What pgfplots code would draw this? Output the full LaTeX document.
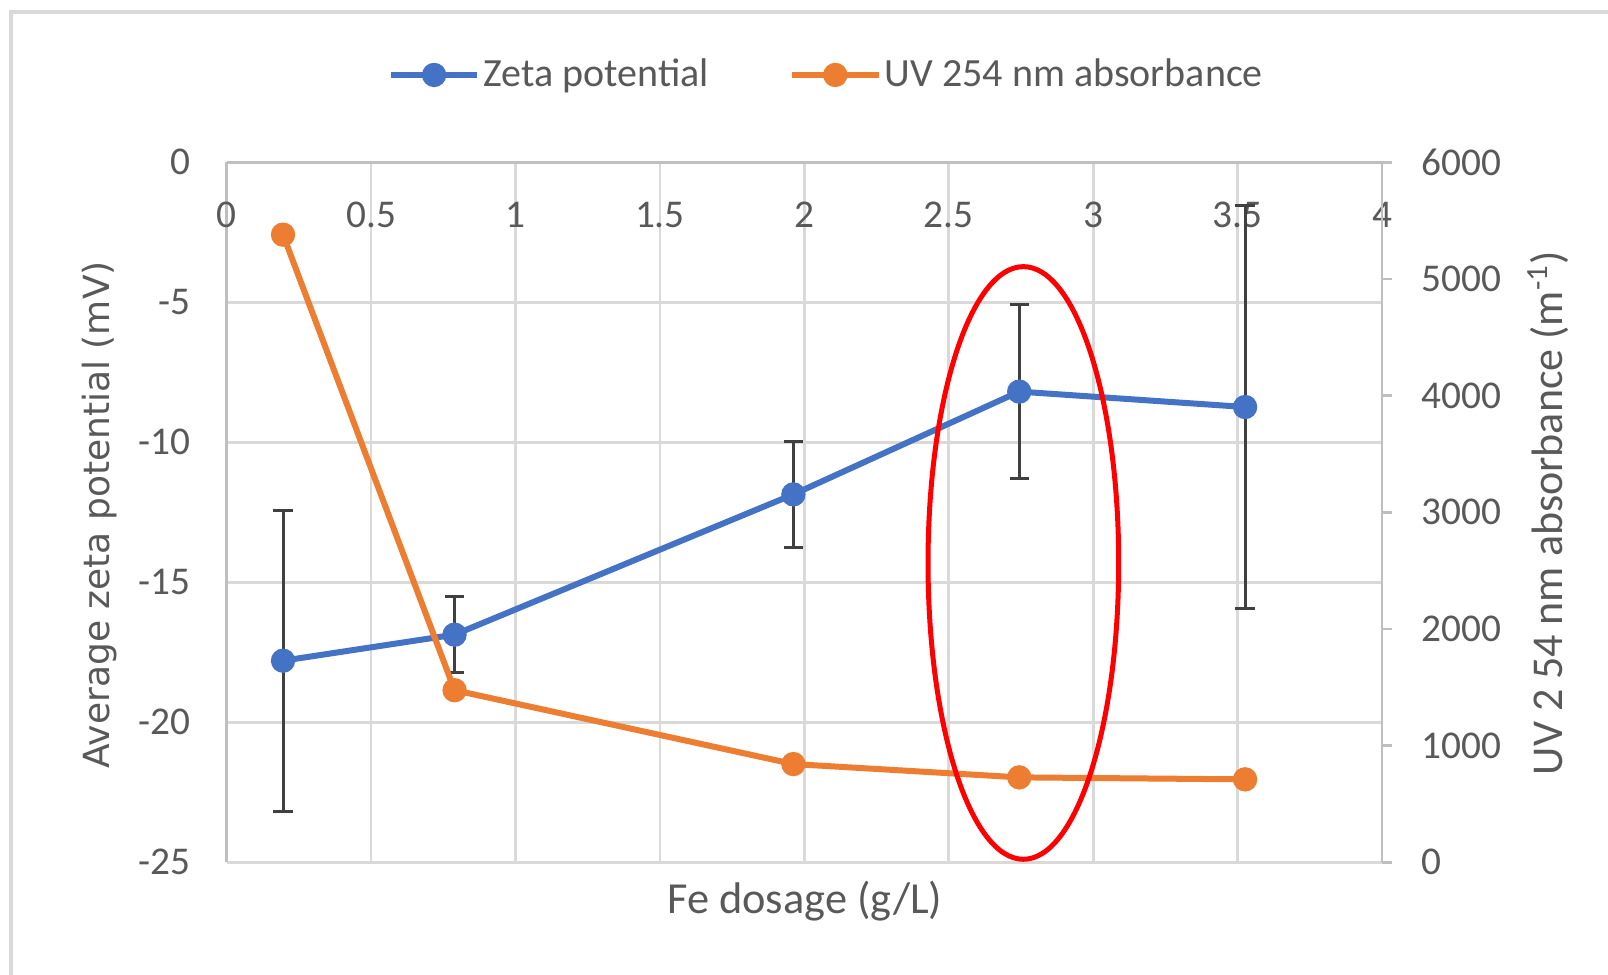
\documentclass[border=0pt]{standalone}
\usepackage{pgfplots}
\pgfplotsset{compat=1.18}
\usepackage{fontspec}
\setmainfont{Carlito}
\newfontfamily\dejavu{DejaVu Sans}
\definecolor{zblue}{HTML}{4472C4}
\definecolor{uorange}{HTML}{ED7D31}
\definecolor{txtgray}{HTML}{595959}
\definecolor{gridgray}{HTML}{D9D9D9}
\definecolor{axgray}{HTML}{BFBFBF}
\definecolor{errgray}{HTML}{404040}
\begin{document}
\begin{tikzpicture}
\useasboundingbox (-68.01pt,-33.51pt) rectangle (414.39pt,258.69pt);
\fill[white] (-68.01pt,-33.51pt) rectangle (414.39pt,258.69pt);
\draw[line width=1.2pt, color=gridgray] (-64.71pt,-40pt) -- (-64.71pt,255.09pt) -- (420pt,255.09pt);

\begin{axis}[
  at={(0,0)}, anchor=south west,
  scale only axis, width=346.6pt, height=210pt,
  xmin=0, xmax=4, ymin=-25, ymax=0,
  axis x line*=top, axis y line*=left,
  axis line style={draw=axgray, line width=0.8pt},
  grid=major, grid style={gridgray, line width=0.8pt},
  xtick={0,0.5,1,1.5,2,2.5,3,3.5,4}, xticklabels={0,0.5,1,1.5,2,2.5,3,3.5,4},
  ytick={-25,-20,-15,-10,-5,0}, yticklabels={-25,-20,-15,-10,-5,0},
  major tick length=0pt,
  tick label style={font=\fontsize{11.8}{14}\selectfont, text=txtgray},
  xticklabel style={anchor=center, yshift=-15.8pt},
  yticklabel style={xshift=-7.4pt},
  clip=false,
]
\addplot[color=zblue, line width=1.8pt, mark=*, mark size=3.4pt,
  mark options={fill=zblue, draw=zblue, line width=0.5pt},
  error bars/.cd, y dir=both, y explicit,
  error bar style={errgray, line width=0.9pt},
  error mark options={rotate=90, errgray, mark size=2.9pt, line width=0.9pt}]
  coordinates {
  (0.195,-17.80) +- (0,5.38)
  (0.789,-16.87) +- (0,1.35)
  (1.962,-11.86) +- (0,1.90)
  (2.744,-8.19) +- (0,3.10)
  (3.526,-8.74) +- (0,7.20)
  };
\end{axis}

\begin{axis}[
  at={(0,0)}, anchor=south west,
  scale only axis, width=346.6pt, height=210pt,
  xmin=0, xmax=4, ymin=0, ymax=6000,
  axis x line=none, axis y line*=right,
  axis line style={draw=axgray, line width=0.8pt},
  ytick={0,1000,2000,3000,4000,5000,6000},
  yticklabels={0,1000,2000,3000,4000,5000,6000},
  tick style={axgray, line width=0.8pt},
  major tick length=3pt, tick align=outside,
  tick label style={font=\fontsize{11.8}{14}\selectfont, text=txtgray},
  yticklabel style={xshift=5.3pt},
  clip=false,
  legend columns=2,
  legend style={at={(0.5196,1.1248)}, anchor=center, draw=none, fill=none,
    font=\fontsize{12}{14}\selectfont, text=txtgray,
    nodes={inner sep=1pt},
    /tikz/every even column/.append style={column sep=23pt}},
  legend image code/.code={\draw[mark repeat=2, mark phase=2, #1] plot coordinates {(0pt,0pt) (13pt,0pt) (26pt,0pt)};},
]
\addlegendimage{color=zblue, line width=1.8pt, mark=*, mark size=3.4pt, mark options={fill=zblue, draw=zblue, line width=0.5pt}}
\addlegendentry{Zeta potential}
\addplot[color=uorange, line width=1.8pt, mark=*, mark size=3.4pt,
  mark options={fill=uorange, draw=uorange, line width=0.5pt}]
  coordinates {
  (0.195,5380)
  (0.789,1475)
  (1.962,842)
  (2.744,728)
  (3.526,711)
  };
\addlegendentry{UV 254 nm absorbance}
\end{axis}

\node[font=\fontsize{13.3}{15}\selectfont, text=txtgray] at (173.5pt,-11.6pt) {Fe dosage (g/L)};
\node[rotate=90, font=\dejavu\fontsize{10.8}{13}\selectfont, text=txtgray] at (-38.2pt,104.2pt) {Average zeta potential (mV)};
\node[rotate=90, font=\fontsize{13.2}{15}\selectfont, text=txtgray] at (396.5pt,104.8pt) {UV 2 54 nm absorbance (m\textsuperscript{-1})};
\draw[red, line width=1.5pt] (239.0pt,89.8pt) ellipse [x radius=28.6pt, y radius=88.9pt];
\end{tikzpicture}
\end{document}
